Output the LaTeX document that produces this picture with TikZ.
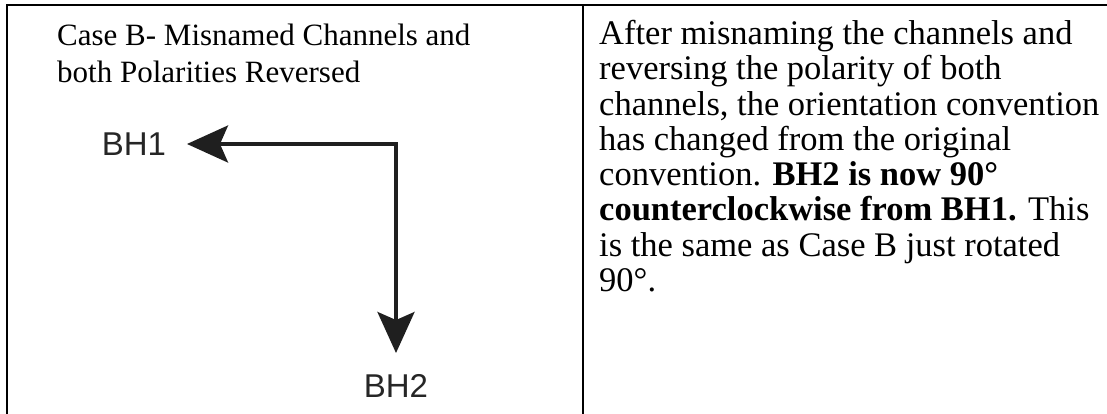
\documentclass[tikz,border=0pt]{standalone}
\usepackage{fontspec}
\setmainfont{Liberation Serif}
\newfontfamily\chanfont{Liberation Sans}
\usepackage{tikz}
\usetikzlibrary{positioning,arrows.meta}

\begin{document}
\begin{tikzpicture}[x=1pt, y=1pt,
        rule/.style={line width=2pt, line cap=rect},
        axis/.style={-{Stealth[length=41pt, width=37pt, inset=8pt]}, line width=3.5pt, line cap=rect, draw=black!88},
        chan/.style={font=\chanfont\fontsize{33}{40}\selectfont, text=black!85, inner sep=0pt, outer sep=21pt},
        note/.style={inner sep=0pt, align=left, anchor=north west},
        node distance=209pt
    ]
    \useasboundingbox (0,0) rectangle (1107,-413);

    % table lines
    \coordinate (tl) at (7,-5);
    \coordinate (tr) at (1107,-5);
    \coordinate (tm) at (583,-5);
    \draw[rule] (tl) -- (tr);
    \draw[rule] (tl) -- (7,-413);
    \draw[rule] (tm) -- (583,-413);

    % left cell
    \node[note, font=\fontsize{31}{37}\selectfont] (title) at (57,-24) {Case B- Misnamed Channels and\\both Polarities Reversed};

    % channel axes
    \coordinate (corner) at (396,-144);
    \node[chan, left=of corner] (bh1) {BH1};
    \node[chan, below=of corner] (bh2) {BH2};
    \draw[axis] (corner) -- (bh1);
    \draw[axis] (corner) -- (bh2);

    % right cell
    \node[note, font=\fontsize{34.5}{35.3}\selectfont] (desc) at (599,-20) {After misnaming the channels and\\
        reversing the polarity of both\\
        channels, the orientation convention\\
        has changed from the original\\
        convention. \textbf{BH2 is now 90°}\\
        \textbf{counterclockwise from BH1.} This\\
        is the same as Case B just rotated\\
        90°.};

\end{tikzpicture}
\end{document}
